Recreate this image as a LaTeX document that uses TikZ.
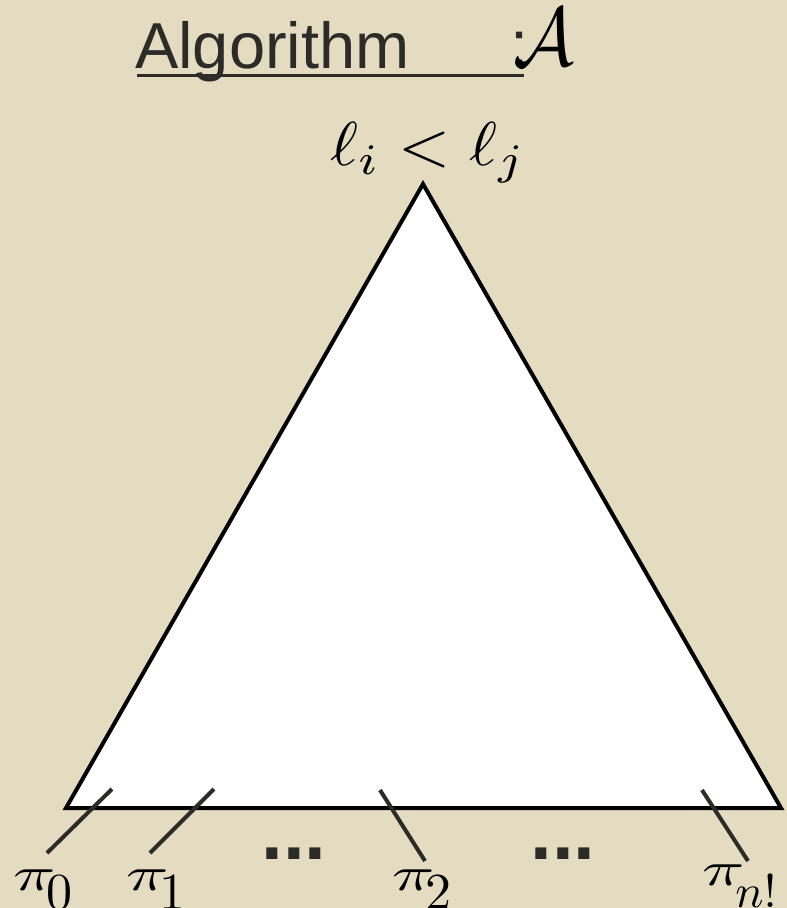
\documentclass[tikz,border=0pt]{standalone}
\usepackage{fontspec}
\usepackage{graphicx}
\setmainfont{Liberation Sans}
\newfontfamily\dotsfont{Liberation Sans}
\definecolor{bgbeige}{RGB}{227,220,192}
\definecolor{inkgray}{RGB}{45,43,40}
\newcommand\pilab[3]{\scalebox{7}[4.8]{$\pi$}\kern-9pt\raisebox{#2}{\scalebox{#3}{$#1$}}}
\tikzset{
  tri/.style={draw=black, fill=white, line width=4pt, line join=miter},
  leader/.style={draw=inkgray, line width=4pt},
  pilabel/.style={anchor=base west, inner sep=0pt, outer sep=0pt},
  dotsl/.style={anchor=base, inner sep=0pt, text=inkgray, font=\dotsfont\bfseries\fontsize{78}{78}\selectfont}
}
\begin{document}
\begin{tikzpicture}[x=1pt,y=-1pt]
\useasboundingbox (0,0) rectangle (787,908);
\fill[bgbeige] (0,0) rectangle (787,908);
\clip (0,0) rectangle (787,908);
% title
\node[anchor=base west, inner sep=0pt, text=inkgray, font=\fontsize{65}{65}\selectfont] (alg) at (135,68) {Algorithm};
\node[anchor=base west, inner sep=0pt, text=inkgray, font=\fontsize{65}{65}\selectfont] (colon) at (510,66) {:};
\node[anchor=base west, inner sep=0pt] (calA) at (513,65) {\scalebox{7.6}[8.3]{$\mathcal{A}$}};
\draw[inkgray, line width=3pt] (137,75) -- (524,75);
% top label
\node[anchor=base, inner sep=0pt] (rootlab) at (428,165) {\scalebox{6.7}[6.2]{$\ell_i < \ell_j$}};
% triangle
\coordinate (apex) at (423,184);
\coordinate (bl) at (66,808);
\coordinate (br) at (781,808);
\draw[tri] (apex) -- (bl) -- (br) -- cycle;
% leaves
\coordinate (t0) at (112,789); \coordinate (b0) at (47,853);
\coordinate (t1) at (214,789); \coordinate (b1) at (150,853);
\coordinate (t2) at (380,790); \coordinate (b2) at (425,861);
\coordinate (tn) at (702,790); \coordinate (bn) at (748,861);
\draw[leader] (t0) -- (b0);
\draw[leader] (t1) -- (b1);
\draw[leader] (t2) -- (b2);
\draw[leader] (tn) -- (bn);
\node[pilabel] (p0) at (13,890) {\pilab{0}{-19pt}{5.2}};
\node[pilabel] (p1) at (126,890) {\pilab{1}{-19pt}{5.2}};
\node[pilabel] (p2) at (392,890) {\pilab{2}{-19pt}{5.2}};
\node[pilabel] (pn) at (702,885) {\pilab{n!}{-22pt}{4.7}};
\node[dotsl] (dl) at (294,859) {...};
\node[dotsl] (dr) at (563,859) {...};
\end{tikzpicture}
\end{document}
